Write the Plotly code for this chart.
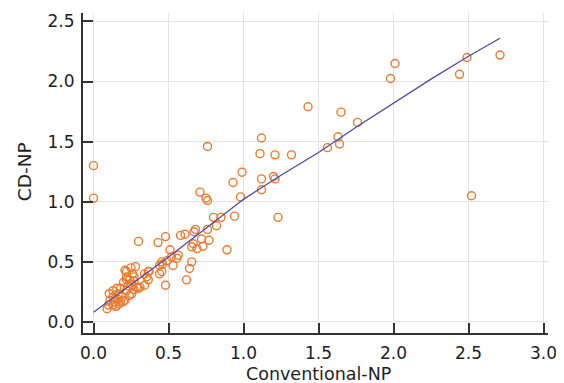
import plotly.graph_objects as go

# Scatter data: Conventional-NP (x) vs CD-NP (y)
conv_np = [
    0.09, 0.10, 0.105, 0.11, 0.13, 0.13, 0.13, 0.14, 0.15, 0.155, 0.16, 0.165, 0.17, 0.18, 0.18,
    0.19, 0.20, 0.20, 0.21, 0.21, 0.22, 0.22, 0.22, 0.22, 0.23, 0.24, 0.24, 0.25, 0.255, 0.255,
    0.26, 0.27, 0.27, 0.27, 0.28, 0.29, 0.30, 0.31, 0.34, 0.34, 0.355, 0.365, 0.365, 0.37,
    0.30, 0.43, 0.48, 0.51, 0.58, 0.61, 0.67, 0.68, 0.665, 0.655, 0.69, 0.73, 0.72, 0.77,
    0.565, 0.555, 0.49, 0.52, 0.455, 0.44, 0.46, 0.53, 0.455, 0.44, 0.655, 0.64, 0.62, 0.48,
    0.89, 0.76, 0.82, 0.80, 0.85, 0.94, 0.71, 0.75, 0.76, 0.98, 0.93, 0.99, 0.76,
    1.12, 1.11, 1.21, 1.32, 1.12, 1.20, 1.21, 1.12, 1.23, 1.43, 1.65, 1.56, 1.63, 1.64, 1.76,
    1.98, 2.01, 2.44, 2.49, 2.71, 2.52, 0.00, 0.00,
]
cd_np = [
    0.11, 0.14, 0.235, 0.18, 0.14, 0.21, 0.26, 0.165, 0.13, 0.28, 0.19, 0.235, 0.15, 0.165, 0.28,
    0.21, 0.33, 0.17, 0.18, 0.43, 0.26, 0.35, 0.375, 0.42, 0.30, 0.35, 0.22, 0.45, 0.235, 0.31,
    0.40, 0.34, 0.375, 0.27, 0.46, 0.29, 0.28, 0.29, 0.305, 0.40, 0.375, 0.42, 0.35, 0.42,
    0.67, 0.66, 0.71, 0.60, 0.72, 0.73, 0.75, 0.77, 0.65, 0.625, 0.61, 0.63, 0.69, 0.68,
    0.555, 0.53, 0.51, 0.54, 0.50, 0.47, 0.48, 0.47, 0.42, 0.40, 0.50, 0.445, 0.35, 0.305,
    0.60, 0.77, 0.80, 0.87, 0.87, 0.88, 1.08, 1.03, 1.01, 1.04, 1.16, 1.245, 1.46,
    1.53, 1.40, 1.39, 1.39, 1.19, 1.21, 1.19, 1.10, 0.87, 1.79, 1.745, 1.45, 1.54, 1.48, 1.66,
    2.025, 2.15, 2.06, 2.20, 2.22, 1.05, 1.30, 1.03,
]

# Smoothed fit line
fit_x = [0.0, 0.25, 0.5, 0.75, 1.0, 1.25, 1.5, 1.75, 2.0, 2.25, 2.5, 2.71]
fit_y = [0.08, 0.31, 0.54, 0.78, 1.02, 1.22, 1.41, 1.62, 1.82, 2.02, 2.21, 2.36]

x_ticks = [0.0, 0.5, 1.0, 1.5, 2.0, 2.5, 3.0]
y_ticks = [0.0, 0.5, 1.0, 1.5, 2.0, 2.5]

FONT = "DejaVu Sans"
TXT = "#1e1e1e"

fig = go.Figure()
fig.add_trace(go.Scatter(
    x=conv_np, y=cd_np, mode="markers",
    marker=dict(symbol="circle-open", size=8, color="#EC7A2E", line=dict(width=1.4, color="#EC7A2E")),
    showlegend=False, cliponaxis=False,
))
fig.add_trace(go.Scatter(
    x=fit_x, y=fit_y, mode="lines",
    line=dict(color="#4D4AA6", width=1.3),
    showlegend=False,
))

axis_common = dict(
    showgrid=True, gridcolor="#E3E3E3", gridwidth=1,
    showline=True, linecolor="#333333", linewidth=2,
    ticks="inside", ticklen=10, tickwidth=2, tickcolor="#333333",
    zeroline=False, automargin=False,
    tickfont=dict(family=FONT, size=17, color=TXT),
)

# The page body has an 8px default margin, so the figure is sized to fit the window.
fig.update_layout(
    width=556, height=375,
    margin=dict(l=75, r=16, t=5, b=50),
    plot_bgcolor="white", paper_bgcolor="white",
    xaxis=dict(
        range=[-0.07, 3.03], tickvals=x_ticks, ticktext=[f"{v:.1f}" for v in x_ticks],
        ticklabelstandoff=4, **axis_common,
    ),
    yaxis=dict(
        range=[-0.092, 2.57], tickvals=y_ticks, ticktext=[f"{v:.1f}" for v in y_ticks],
        ticklabelstandoff=3, **axis_common,
    ),
    annotations=[
        dict(text="Conventional-NP", xref="paper", yref="paper", x=0.5075, y=-0.127,
             xanchor="center", yanchor="middle", showarrow=False,
             font=dict(family=FONT, size=17.5, color=TXT)),
        dict(text="CD-NP", xref="paper", yref="paper", x=-0.126, y=0.504, textangle=-90,
             xanchor="center", yanchor="middle", showarrow=False,
             font=dict(family=FONT, size=18.5, color=TXT)),
    ],
)

fig.write_html("out.html")
